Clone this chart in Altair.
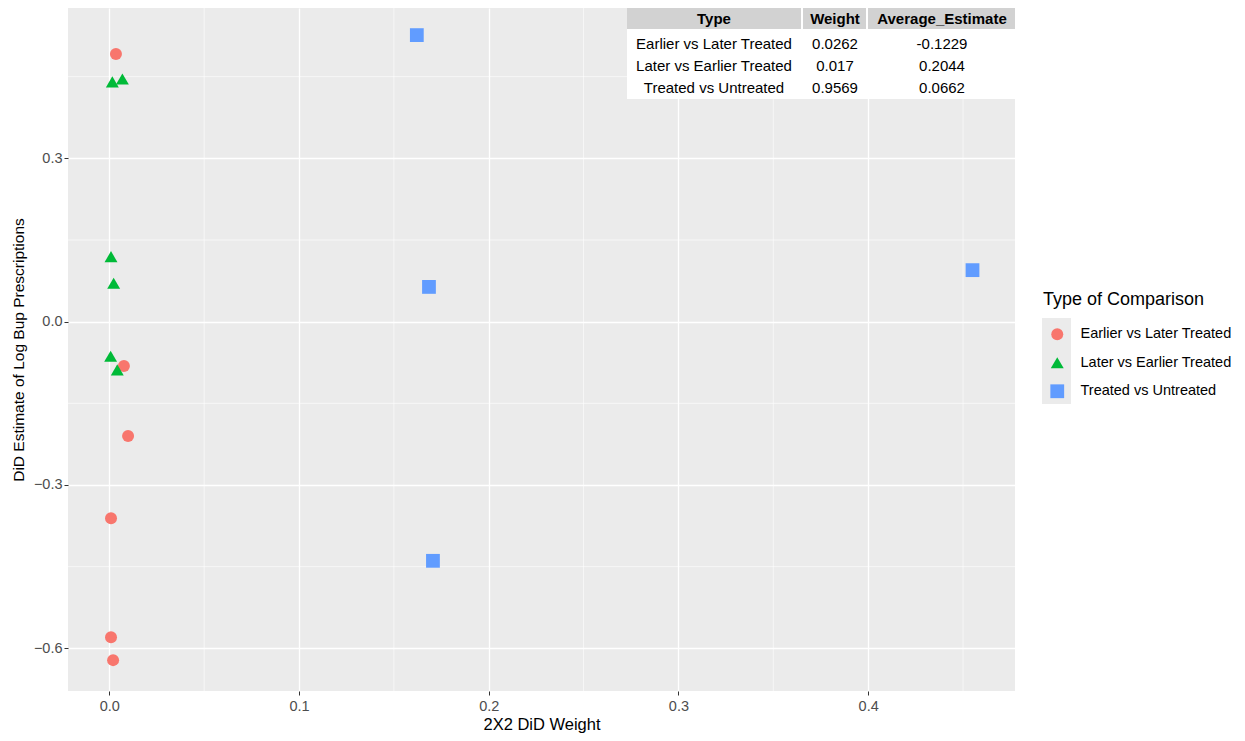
import altair as alt
import pandas as pd

# ---- data ----
types = ["Earlier vs Later Treated", "Later vs Earlier Treated", "Treated vs Untreated"]
red_x = [0.0035, 0.0077, 0.0099, 0.0009, 0.0009, 0.0020]
red_y = [0.4917, -0.0814, -0.2100, -0.3609, -0.5795, -0.6217]
green_x = [0.0016, 0.0069, 0.0009, 0.0023, 0.0007, 0.0042]
green_y = [0.4403, 0.4457, 0.1194, 0.0705, -0.0636, -0.0887]
blue_x = [0.1621, 0.1685, 0.1706, 0.4550]
blue_y = [0.5263, 0.0638, -0.4393, 0.0946]

table_header = ["Type", "Weight", "Average_Estimate"]
table_type = ["Earlier vs Later Treated", "Later vs Earlier Treated", "Treated vs Untreated"]
table_weight = ["0.0262", "0.017", "0.9569"]
table_avg = ["-0.1229", "0.2044", "0.0662"]

x_ticks = [0.0, 0.1, 0.2, 0.3, 0.4]
y_ticks = [-0.6, -0.3, 0.0, 0.3]
x_minor = [0.05, 0.15, 0.25, 0.35, 0.45]
y_minor = [-0.45, -0.15, 0.15, 0.45]

colors = ["#F8766D", "#00BA38", "#619CFF"]
shapes = ["circle", "triangle-up", "square"]

W, H = 947, 683
XMIN, XMAX = -0.02177, 0.4774
YMIN, YMAX = -0.6784, 0.5761
FONT = "Liberation Sans"

def px_x(p):
    return XMIN + p / W * (XMAX - XMIN)

def px_y(p):
    return YMAX - p / H * (YMAX - YMIN)

pts = pd.DataFrame({
    "x": red_x + green_x + blue_x,
    "y": red_y + green_y + blue_y,
    "Type": [types[0]] * len(red_x) + [types[1]] * len(green_x) + [types[2]] * len(blue_x),
})

xs = alt.Scale(domain=[XMIN, XMAX], nice=False, zero=False)
ys = alt.Scale(domain=[YMIN, YMAX], nice=False, zero=False)

base_x = alt.X("x:Q", scale=xs, title="2X2 DiD Weight",
               axis=alt.Axis(values=x_ticks, format=".1f", grid=True, titleFontSize=16.5,
                             labelFontSize=14.5))
base_y = alt.Y("y:Q", scale=ys, title="DiD Estimate of Log Bup Prescriptions",
               axis=alt.Axis(values=y_ticks, format=".1f", grid=True, titleFontSize=15.5,
                             labelFontSize=14.5))

minor_v = alt.Chart(pd.DataFrame({"x": x_minor})).mark_rule(color="white", strokeWidth=0.6).encode(
    x=alt.X("x:Q", scale=xs))
minor_h = alt.Chart(pd.DataFrame({"y": y_minor})).mark_rule(color="white", strokeWidth=0.6).encode(
    y=alt.Y("y:Q", scale=ys))

points = alt.Chart(pts).mark_point(filled=True, opacity=1).encode(
    x=base_x,
    y=base_y,
    color=alt.Color("Type:N", scale=alt.Scale(domain=types, range=colors),
                    title="Type of Comparison",
                    legend=alt.Legend(orient="none", legendX=975, legendY=283)),
    shape=alt.Shape("Type:N", scale=alt.Scale(domain=types, range=shapes),
                    title="Type of Comparison"),
    size=alt.Size("Type:N", scale=alt.Scale(domain=types, range=[144, 190, 137]), legend=None),
)

key_bg = alt.Chart(pd.DataFrame({"k": [0]})).mark_rect(color="#ebebeb").encode(
    x=alt.value(974), x2=alt.value(1003), y=alt.value(310), y2=alt.value(396))

# ---- table (layout in pixels relative to the plot, converted to data units) ----
col_x0 = [559, 735, 800]
col_x1 = [733, 798, 947]
col_cx = [646, 767, 874]
head_y0, head_y1 = 0, 21
row_cy = [36, 58, 80]
body_y1 = 91

body_bg = pd.DataFrame({"x": [px_x(559)], "x2": [px_x(947)], "y": [px_y(0)], "y2": [px_y(body_y1)]})
tbl_bg = alt.Chart(body_bg).mark_rect(color="white").encode(
    x=alt.X("x:Q", scale=xs), x2="x2:Q", y=alt.Y("y:Q", scale=ys), y2="y2:Q")

head_df = pd.DataFrame({
    "x": [px_x(v) for v in col_x0], "x2": [px_x(v) for v in col_x1],
    "y": [px_y(head_y0)] * 3, "y2": [px_y(head_y1)] * 3,
    "cx": [px_x(v) for v in col_cx], "cy": [px_y(11)] * 3,
    "label": table_header,
})
head_rect = alt.Chart(head_df).mark_rect(color="#d2d2d2").encode(
    x=alt.X("x:Q", scale=xs), x2="x2:Q", y=alt.Y("y:Q", scale=ys), y2="y2:Q")
head_text = alt.Chart(head_df).mark_text(font=FONT, fontSize=15, fontWeight="bold",
                                         color="black", baseline="middle").encode(
    x=alt.X("cx:Q", scale=xs), y=alt.Y("cy:Q", scale=ys), text="label:N")

cells = []
for i in range(3):
    for j, val in enumerate([table_type[i], table_weight[i], table_avg[i]]):
        cells.append({"cx": px_x(col_cx[j]), "cy": px_y(row_cy[i]), "label": val})
cell_df = pd.DataFrame(cells)
cell_text = alt.Chart(cell_df).mark_text(font=FONT, fontSize=15, color="black",
                                         baseline="middle").encode(
    x=alt.X("cx:Q", scale=xs), y=alt.Y("cy:Q", scale=ys), text="label:N")

chart = alt.layer(minor_v, minor_h, points, tbl_bg, head_rect, head_text, cell_text, key_bg).properties(
    width=W, height=H,
    autosize=alt.AutoSizeParams(type="none"),
    padding={"left": 60, "top": 0, "right": 222, "bottom": 47},
).configure_view(
    fill="#ebebeb", stroke=None
).configure_axis(
    gridColor="white", gridWidth=1.3, domain=False,
    tickColor="#333333", tickSize=4, tickWidth=1,
    labelColor="#4d4d4d", labelFont=FONT,
    titleFont=FONT, titleColor="black", titleFontWeight="normal",
    labelPadding=2,
).configure_axisX(
    titlePadding=4, labelPadding=4
).configure_axisY(
    titlePadding=7
).configure_legend(
    titleFont=FONT, titleFontSize=18, titleFontWeight="normal", titleColor="black",
    labelFont=FONT, labelFontSize=14.5, labelColor="black",
    symbolSize=130, symbolOpacity=1, symbolStrokeWidth=0,
    rowPadding=13.5, titlePadding=18, symbolOffset=7, labelOffset=16,
)

chart.save("out.html", embed_options={"renderer": "svg", "actions": False})
